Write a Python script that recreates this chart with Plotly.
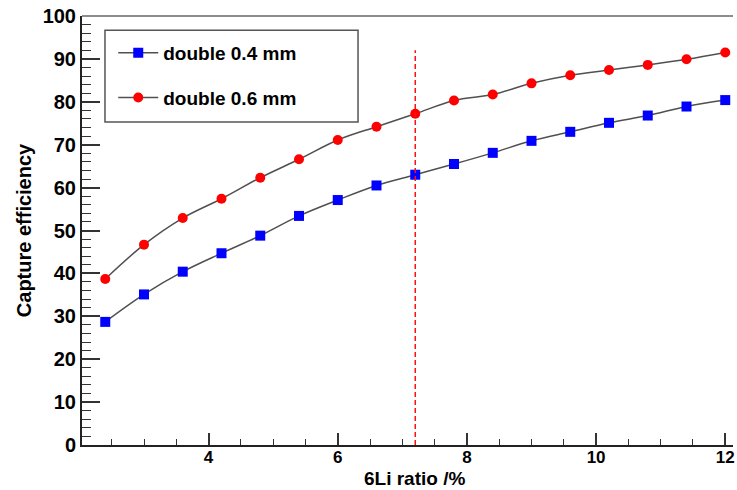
import plotly.graph_objects as go

# Data
li_ratio = [2.4, 3.0, 3.6, 4.2, 4.8, 5.4, 6.0, 6.6, 7.2, 7.8, 8.4, 9.0, 9.6, 10.2, 10.8, 11.4, 12.0]
eff_04 = [28.7, 35.1, 40.4, 44.7, 48.8, 53.4, 57.1, 60.5, 63.0, 65.5, 68.1, 70.9, 73.0, 75.1, 76.8, 78.9, 80.4]
eff_06 = [38.7, 46.7, 52.9, 57.4, 62.3, 66.6, 71.1, 74.2, 77.2, 80.3, 81.7, 84.3, 86.2, 87.4, 88.6, 89.9, 91.5]
series_names = ["double 0.4 mm", "double 0.6 mm"]
cut_x = [7.2, 7.2]
cut_y = [0, 92]
x_ticks = [4, 6, 8, 10, 12]
y_ticks = [0, 10, 20, 30, 40, 50, 60, 70, 80, 90, 100]
x_title = "6Li ratio /%"
y_title = "Capture efficiency"

FONT = "Liberation Sans, Arial, sans-serif"

fig = go.Figure()
fig.add_trace(go.Scatter(
    x=li_ratio, y=eff_04, name=series_names[0], mode="lines+markers",
    line=dict(color="#505050", width=1.5, shape="spline", smoothing=1.0),
    marker=dict(symbol="square", size=10, color="#0000ff"),
    legendgroup="a",
))
fig.add_trace(go.Scatter(
    x=li_ratio, y=eff_06, name=series_names[1], mode="lines+markers",
    line=dict(color="#505050", width=1.5, shape="spline", smoothing=1.0),
    marker=dict(symbol="circle", size=10, color="#ff0000"),
    legendgroup="b",
))
fig.add_trace(go.Scatter(
    x=cut_x, y=cut_y, mode="lines", showlegend=False,
    line=dict(color="#ff1010", width=1.5, dash="5px,3px"),
))

# legend frame
fig.add_shape(type="rect", xref="paper", yref="paper",
              x0=0.0353, x1=0.424, y0=0.753, y1=0.967,
              line=dict(color="#555555", width=1.5), fillcolor="rgba(0,0,0,0)", layer="above")
# top frame line
fig.add_shape(type="line", xref="paper", yref="paper", x0=0, x1=1, y0=1, y1=1,
              line=dict(color="#666666", width=1.5))

# x-axis title
fig.add_annotation(text=x_title, xref="paper", yref="paper", x=0.5115, y=-0.077,
                   xanchor="center", yanchor="middle", showarrow=False,
                   font=dict(size=19, family=FONT, weight="bold", color="black"))

fig.update_layout(
    width=737, height=490,
    margin=dict(l=82, r=4, t=16, b=45),
    paper_bgcolor="white", plot_bgcolor="white",
    font=dict(family=FONT, color="black", size=18, weight="bold"),
    showlegend=True,
    legend=dict(x=0.048, y=0.958, xanchor="left", yanchor="top",
                bgcolor="rgba(0,0,0,0)", borderwidth=0,
                font=dict(size=19, family=FONT, weight="bold"),
                tracegroupgap=17, itemwidth=40),
    xaxis=dict(
        range=[2.04, 12.12], tickvals=x_ticks, ticks="inside", ticklen=12,
        tickwidth=1.5, tickcolor="#333", showgrid=False, zeroline=False,
        showline=True, linecolor="#222", linewidth=2, automargin=False,
        tickfont=dict(size=17, family=FONT, weight="bold"),
        ticklabelstandoff=-4,
        minor=dict(dtick=0.5, ticks="inside", ticklen=6, tickcolor="#333", tickwidth=1.2),
    ),
    yaxis=dict(
        range=[0, 100], tickvals=y_ticks, ticks="inside", ticklen=18,
        tickwidth=1.5, tickcolor="#333", showgrid=False, zeroline=False,
        showline=True, linecolor="#222", linewidth=2, automargin=False,
        tickfont=dict(size=20, family=FONT, weight="bold"),
        minor=dict(dtick=2, ticks="inside", ticklen=9, tickcolor="#333", tickwidth=1.2),
        title=dict(text=y_title, standoff=6,
                   font=dict(size=20, family=FONT, weight="bold")),
    ),
)

fig.write_html("out.html")
